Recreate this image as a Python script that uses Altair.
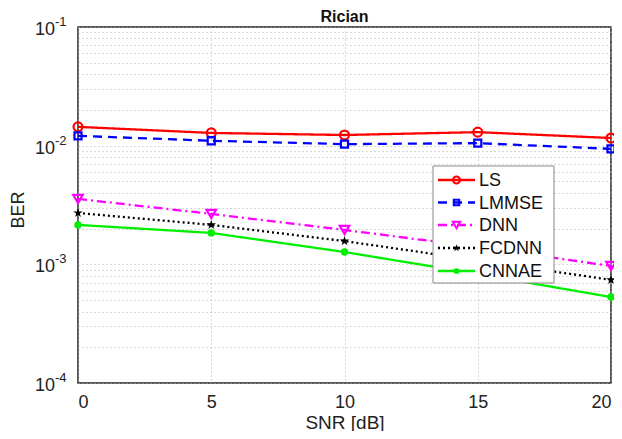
import altair as alt
import pandas as pd

snr = [0, 5, 10, 15, 20]
ls_ber = [0.0144, 0.0128, 0.0123, 0.0130, 0.0116]
lmmse_ber = [0.0121, 0.0110, 0.0103, 0.0105, 0.0094]
dnn_ber = [0.00356, 0.00266, 0.00195, 0.00140, 0.00097]
fcdnn_ber = [0.00271, 0.00215, 0.00157, 0.00108, 0.00074]
cnnae_ber = [0.00215, 0.00184, 0.00127, 0.00083, 0.00053]

series_names = ["LS", "LMMSE", "DNN", "FCDNN", "CNNAE"]
series_vals = [ls_ber, lmmse_ber, dnn_ber, fcdnn_ber, cnnae_ber]
colors = ["#ff0000", "#0000ff", "#ff00ff", "#000000", "#00ee00"]
dashes = [[1, 0], [9, 6], [9, 4, 2, 4], [2, 3], [1, 0]]
star = "M0,-1L0.2245,-0.309L0.951,-0.309L0.363,0.118L0.588,0.809L0,0.382L-0.588,0.809L-0.363,0.118L-0.951,-0.309L-0.2245,-0.309Z"
shapes = ["circle", "square", "triangle-down", star, "circle"]
filled = [False, False, False, True, True]
sizes = [80, 50, 90, 100, 55]

decades = [1e-4, 1e-3, 1e-2, 1e-1]
exponents = ["-4", "-3", "-2", "-1"]
grid_y = [k * 10.0 ** e for e in (-4, -3, -2) for k in range(1, 10)] + [0.1]

title_text = "Rician"
x_title = "SNR [dB]"
y_title = "BER"

W, H = 533, 356
FONT = "Liberation Sans"
xscale = alt.Scale(domain=[0, 20], nice=False)
yscale = alt.Scale(type="log", domain=[1e-4, 1e-1], nice=False)

xaxis = alt.Axis(values=snr, grid=True, gridDash=[1, 3], gridColor="#b0b0b0",
                 ticks=False, domain=False, labelFontSize=18, labelPadding=10,
                 labelFont=FONT, labelColor="#222",
                 titleFont=FONT, titleFontSize=19, titleFontWeight="normal",
                 titlePadding=2, titleColor="#222")
yaxis = alt.Axis(values=grid_y, grid=True, gridDash=[1, 3], gridColor="#b0b0b0",
                 ticks=False, domain=False, labels=False, title=None)


def X(field):
    return alt.X(field, scale=xscale, axis=xaxis, title=x_title)


def Y(field):
    return alt.Y(field, scale=yscale, axis=yaxis)


layers = []

# y decade labels
ddf = pd.DataFrame({"y": decades, "base": ["10"] * 4, "exp": exponents})
layers.append(alt.Chart(ddf).mark_text(align="right", baseline="middle", fontSize=18, dy=3,
                                       font=FONT, color="#222").encode(
    x=alt.value(-23), y=Y("y:Q"), text="base:N"))
layers.append(alt.Chart(ddf).mark_text(align="left", baseline="middle", fontSize=13, dy=-5,
                                       font=FONT, color="#222").encode(
    x=alt.value(-23), y=Y("y:Q"), text="exp:N"))

for name, vals, c, d, s, f, sz in zip(series_names, series_vals, colors, dashes, shapes, filled, sizes):
    df = pd.DataFrame({"snr": snr, "ber": vals})
    enc = dict(x=X("snr:Q"), y=Y("ber:Q"))
    layers.append(alt.Chart(df).mark_line(color=c, strokeDash=d, strokeWidth=2.3).encode(**enc))
    layers.append(alt.Chart(df).mark_point(shape=s, filled=f, color=c, size=sz, strokeWidth=2.2,
                                           opacity=1).encode(**enc))

# titles as text
tdf = pd.DataFrame({"t": [title_text], "yt": [y_title]})
layers.append(alt.Chart(tdf).mark_text(align="center", baseline="middle", fontSize=16,
                                       fontWeight="bold", font=FONT, color="#111").encode(
    x=alt.value(W / 2), y=alt.value(-10), text="t:N"))
layers.append(alt.Chart(tdf).mark_text(align="center", baseline="middle", fontSize=18,
                                       angle=270, font=FONT, color="#222").encode(
    x=alt.value(-59), y=alt.value(183), text="yt:N"))

# legend box
lx0, lx1, ly0, ly1 = 355, 476, 139, 256
layers.append(alt.Chart(pd.DataFrame({"a": [0]})).mark_rect(fill="white", stroke="#888",
                                                              strokeWidth=1).encode(
    x=alt.value(lx0), x2=alt.value(lx1), y=alt.value(ly0), y2=alt.value(ly1)))
row_y = [153, 175.5, 198, 221, 244]
for name, c, d, s, f, sz, ry in zip(series_names, colors, dashes, shapes, filled, sizes, row_y):
    ldf = pd.DataFrame({"label": [name]})
    layers.append(alt.Chart(ldf).mark_rule(color=c, strokeDash=d, strokeWidth=2.3).encode(
        x=alt.value(360), x2=alt.value(397), y=alt.value(ry)))
    layers.append(alt.Chart(ldf).mark_point(shape=s, filled=f, color=c, size=sz * 0.6,
                                            strokeWidth=2, opacity=1).encode(
        x=alt.value(378.5), y=alt.value(ry)))
    layers.append(alt.Chart(ldf).mark_text(align="left", baseline="middle", fontSize=18,
                                           font=FONT, color="#111").encode(
        x=alt.value(401), y=alt.value(ry + 1), text="label:N"))

chart = alt.layer(*layers).properties(
    width=W, height=H,
    autosize=alt.AutoSizeParams(type="none"),
    padding={"left": 70, "top": 19, "right": 3, "bottom": 48},
).configure_view(stroke="#222", strokeWidth=1.5)

chart.save("out.html", embed_options={"renderer": "svg", "actions": False})
